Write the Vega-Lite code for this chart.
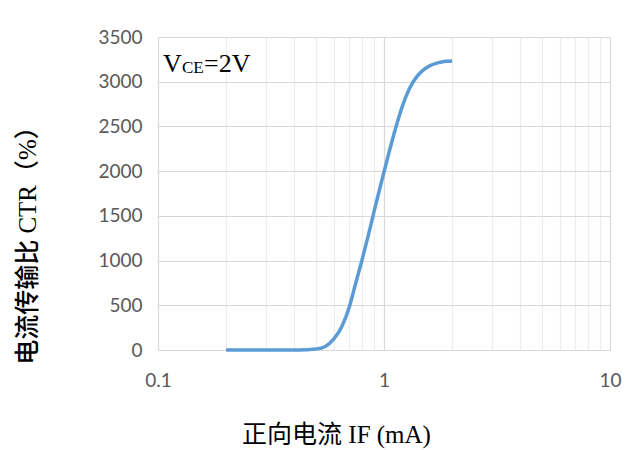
{
  "$schema": "https://vega.github.io/schema/vega-lite/v6.json",
  "width": 452,
  "height": 313,
  "autosize": {"type": "none"},
  "padding": {"left": 158, "top": 37, "right": 33, "bottom": 100},
  "background": "white",
  "config": {"view": {"stroke": null}},
  "layer": [
    {
      "data": {"values": [
        {"IF": 0.2, "CTR": 0},
        {"IF": 0.3, "CTR": 0},
        {"IF": 0.4, "CTR": 0},
        {"IF": 0.45, "CTR": 3},
        {"IF": 0.5, "CTR": 10},
        {"IF": 0.55, "CTR": 40},
        {"IF": 0.6, "CTR": 125},
        {"IF": 0.65, "CTR": 260},
        {"IF": 0.7, "CTR": 470},
        {"IF": 0.75, "CTR": 750},
        {"IF": 0.8, "CTR": 1010},
        {"IF": 0.85, "CTR": 1270},
        {"IF": 0.9, "CTR": 1530},
        {"IF": 0.95, "CTR": 1770},
        {"IF": 1.0, "CTR": 1990},
        {"IF": 1.05, "CTR": 2200},
        {"IF": 1.1, "CTR": 2390},
        {"IF": 1.15, "CTR": 2560},
        {"IF": 1.2, "CTR": 2710},
        {"IF": 1.3, "CTR": 2930},
        {"IF": 1.4, "CTR": 3060},
        {"IF": 1.5, "CTR": 3135},
        {"IF": 1.6, "CTR": 3180},
        {"IF": 1.7, "CTR": 3205},
        {"IF": 1.8, "CTR": 3220},
        {"IF": 1.9, "CTR": 3228},
        {"IF": 2.0, "CTR": 3232}
      ]},
      "mark": {"type": "line", "color": "#5B9BD5", "strokeWidth": 3.5, "interpolate": "monotone"},
      "encoding": {
        "x": {
          "field": "IF", "type": "quantitative",
          "scale": {"type": "log", "domain": [0.1, 10]},
          "axis": {
            "values": [0.1, 0.2, 0.3, 0.4, 0.5, 0.6, 0.7, 0.8, 0.9, 1, 2, 3, 4, 5, 6, 7, 8, 9, 10],
            "title": "正向电流 IF (mA)",
            "grid": true,
            "gridColor": {"condition": {"test": "datum.value == 0.1 || datum.value == 1 || datum.value == 10", "value": "#d9d9d9"}, "value": "#ececec"},
            "gridWidth": 1.2,
            "ticks": false,
            "domain": false,
            "labelExpr": "datum.value == 0.1 ? '0.1' : datum.value == 1 ? '1' : datum.value == 10 ? '10' : ''",
            "labelFlush": false,
            "labelOverlap": false,
            "labelFont": "Lato",
            "labelFontSize": 19,
            "labelColor": "#595959",
            "labelPadding": 21,
            "titleFont": "Liberation Serif, Noto Sans CJK SC",
            "titleFontSize": 25,
            "titleFontWeight": "normal",
            "titleColor": "#000000",
            "titleX": 178,
            "titleY": 92,
            "titleBaseline": "alphabetic",
            "titleAlign": "center"
          }
        },
        "y": {
          "field": "CTR", "type": "quantitative",
          "scale": {"domain": [0, 3500]},
          "axis": {
            "values": [0, 500, 1000, 1500, 2000, 2500, 3000, 3500],
            "format": "d",
            "title": "电流传输比 CTR（%）",
            "grid": true,
            "gridColor": "#d9d9d9",
            "gridWidth": 1.2,
            "ticks": false,
            "domain": false,
            "labelFlush": false,
            "labelFont": "Lato",
            "labelFontSize": 19,
            "labelColor": "#595959",
            "labelPadding": 16,
            "titleFont": "Liberation Serif, Noto Sans CJK SC",
            "titleFontSize": 25,
            "titleFontWeight": 500,
            "titleColor": "#000000",
            "titleAngle": -90,
            "titleX": -131,
            "titleY": 202,
            "titleBaseline": "middle",
            "titleAlign": "center"
          }
        }
      }
    },
    {
      "data": {"values": [{"t": "V"}]},
      "mark": {"type": "text", "font": "Liberation Serif", "fontSize": 26, "align": "left", "baseline": "alphabetic", "dx": 5, "color": "#000000"},
      "encoding": {"x": {"datum": 0.1}, "y": {"datum": 3110}, "text": {"field": "t"}}
    },
    {
      "data": {"values": [{"t": "CE"}]},
      "mark": {"type": "text", "font": "Liberation Serif", "fontSize": 17, "align": "left", "baseline": "alphabetic", "dx": 24, "dy": 1, "color": "#000000"},
      "encoding": {"x": {"datum": 0.1}, "y": {"datum": 3110}, "text": {"field": "t"}}
    },
    {
      "data": {"values": [{"t": "=2V"}]},
      "mark": {"type": "text", "font": "Liberation Serif", "fontSize": 26, "align": "left", "baseline": "alphabetic", "dx": 46, "color": "#000000"},
      "encoding": {"x": {"datum": 0.1}, "y": {"datum": 3110}, "text": {"field": "t"}}
    }
  ]
}
